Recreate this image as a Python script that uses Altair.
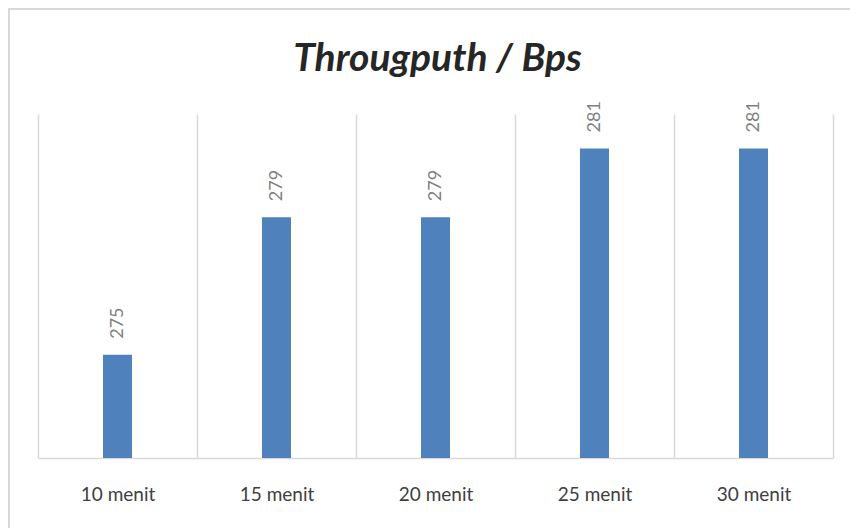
import altair as alt
import pandas as pd

categories = ["10 menit", "15 menit", "20 menit", "25 menit", "30 menit"]
values = [275, 279, 279, 281, 281]
y_min, y_max = 272, 282
title_text = "Througputh / Bps"

df = pd.DataFrame({"cat": categories, "val": values})

W, H = 795, 344
PL, PT = 38, 114

x_enc = alt.X(
    "cat:N",
    sort=categories,
    scale=alt.Scale(paddingInner=0, paddingOuter=0),
    axis=alt.Axis(
        title=None,
        labelAngle=0,
        ticks=False,
        grid=True,
        gridColor="#d9d9d9",
        gridWidth=1.5,
        tickBand="extent",
        domainColor="#d9d9d9",
        domainWidth=1.5,
        labelFont="Lato",
        labelFontSize=19,
        labelColor="#404040",
        labelPadding=27,
    ),
)
y_enc = alt.Y(
    "val:Q",
    scale=alt.Scale(domain=[y_min, y_max], zero=False, nice=False),
    axis=None,
)

base = alt.Chart(df)

bars = base.mark_bar(size=29, color="#4f81bd").encode(
    x=x_enc, y=y_enc, y2=alt.datum(y_min)
)

labels = base.mark_text(
    angle=270, align="left", baseline="middle", dx=16,
    font="Lato", fontSize=18, color="#7f7f7f",
).encode(x=alt.X("cat:N", sort=categories), y="val:Q", text="val:Q")

deco = pd.DataFrame({"t": [title_text]})

border = alt.Chart(deco).mark_rect(
    fill=None, stroke="#d9d9d9", strokeWidth=2
).encode(
    x=alt.value(-PL + 9), x2=alt.value(W + 40),
    y=alt.value(-PT + 9), y2=alt.value(H + 100),
)

title = alt.Chart(deco).mark_text(
    font="Lato", fontSize=39, fontWeight="bold", fontStyle="italic",
    color="#262626", align="center", baseline="alphabetic",
).encode(x=alt.value(W / 2 + 2), y=alt.value(71 - PT), text="t:N")

chart = alt.layer(border, bars, labels, title).properties(
    width=W,
    height=H,
    background="white",
    autosize=alt.AutoSizeParams(type="none"),
    padding={"left": PL, "top": PT, "right": 850 - PL - W, "bottom": 528 - PT - H},
).configure_view(stroke=None)

chart.save("out.html", embed_options={"renderer": "svg", "actions": False})
